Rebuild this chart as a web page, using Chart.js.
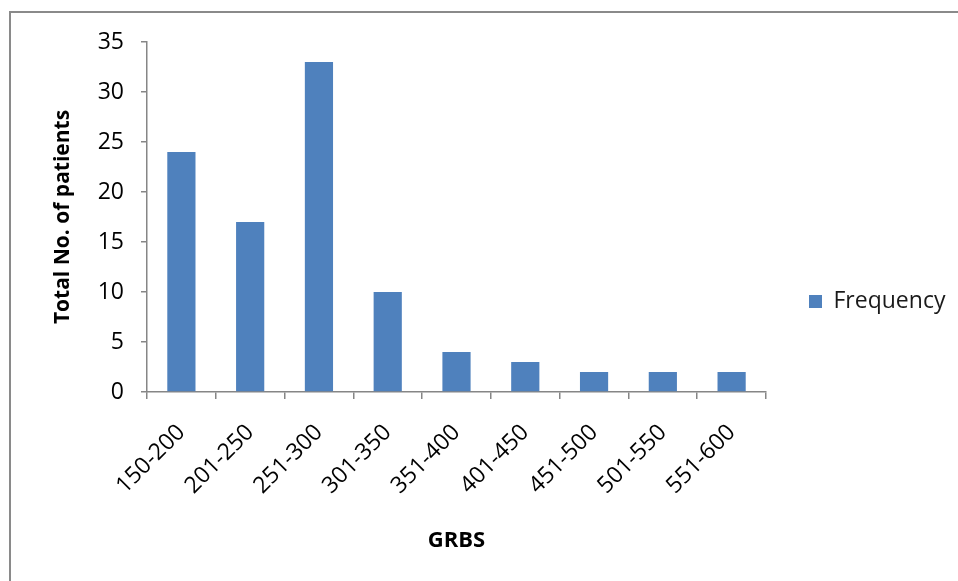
<!DOCTYPE html>
<html>
<head>
<meta charset="utf-8">
<script src="https://cdn.jsdelivr.net/npm/chart.js@4"></script>
<style>
  html, body { margin: 0; padding: 0; background: #fff; overflow: hidden; }
  #frame { position: absolute; left: 9px; top: 11px; width: 1000px; height: 1000px; border: 2px solid #8a8a8a; box-sizing: border-box; }
  #wrap { position: absolute; left: 0; top: 0; width: 958px; height: 581px; }
</style>
</head>
<body>
<div id="frame"></div>
<div id="wrap"><canvas id="c" width="958" height="581"></canvas></div>
<script>
// GRBS ranges and how many patients fall in each
const categories = ['150-200', '201-250', '251-300', '301-350', '351-400', '401-450', '451-500', '501-550', '551-600'];
const frequency = [24, 17, 33, 10, 4, 3, 2, 2, 2];
const yTicks = [0, 5, 10, 15, 20, 25, 30, 35];

const axisGray = '#868686';
const font = 'Open Sans';
const legendWidth = 192;
const legendShift = -10;

// Keep the legend column at a fixed width and nudge its vertical centre
const legendFit = {
  id: 'legendFit',
  beforeLayout(chart) {
    const lg = chart.legend;
    if (lg && !lg._fixedFit) {
      const fit = lg.fit.bind(lg);
      lg.fit = function () { fit(); this.width = legendWidth; };
      lg._fixedFit = true;
    }
  },
  afterLayout(chart) {
    const lg = chart.legend;
    if (lg) { lg.top += legendShift; lg.bottom += legendShift; }
  }
};

new Chart(document.getElementById('c'), {
  type: 'bar',
  data: {
    labels: categories,
    datasets: [{
      label: 'Frequency',
      data: frequency,
      backgroundColor: '#4F81BD',
      borderWidth: 0,
      categoryPercentage: 1,
      barPercentage: 0.41
    }]
  },
  plugins: [legendFit],
  options: {
    responsive: false,
    animation: false,
    layout: { padding: { top: 42, right: 0, bottom: 0, left: 0 } },
    plugins: {
      tooltip: { enabled: false },
      legend: {
        position: 'right',
        labels: {
          boxWidth: 13,
          boxHeight: 13,
          padding: 43,
          color: '#1a1a1a',
          font: { family: font, size: 23 }
        }
      }
    },
    scales: {
      x: {
        afterFit: s => { s.height = 189; },
        grid: {
          offset: true,
          drawOnChartArea: false,
          drawTicks: true,
          tickLength: 7,
          color: axisGray,
          lineWidth: 1.5
        },
        border: { display: true, color: axisGray, width: 1.5 },
        ticks: {
          minRotation: 45,
          maxRotation: 45,
          padding: 20,
          color: '#000',
          font: { family: font, size: 23 }
        },
        title: {
          display: true,
          text: 'GRBS',
          color: '#000',
          font: { family: font, size: 22, weight: 'bold' },
          padding: { top: 0, bottom: 27 }
        }
      },
      y: {
        min: 0,
        max: 35,
        afterFit: s => { s.width = 147; },
        afterBuildTicks: s => { s.ticks = yTicks.map(v => ({ value: v })); },
        grid: {
          drawOnChartArea: false,
          drawTicks: true,
          tickLength: 6,
          color: axisGray,
          lineWidth: 1.5
        },
        border: { display: true, color: axisGray, width: 1.5 },
        ticks: {
          padding: 17,
          color: '#000',
          font: { family: font, size: 23 }
        },
        title: {
          display: true,
          text: 'Total No. of patients',
          color: '#000',
          font: { family: font, size: 21, weight: 'bold' },
          padding: { top: 50, bottom: 0 }
        }
      }
    }
  }
});
</script>
</body>
</html>
